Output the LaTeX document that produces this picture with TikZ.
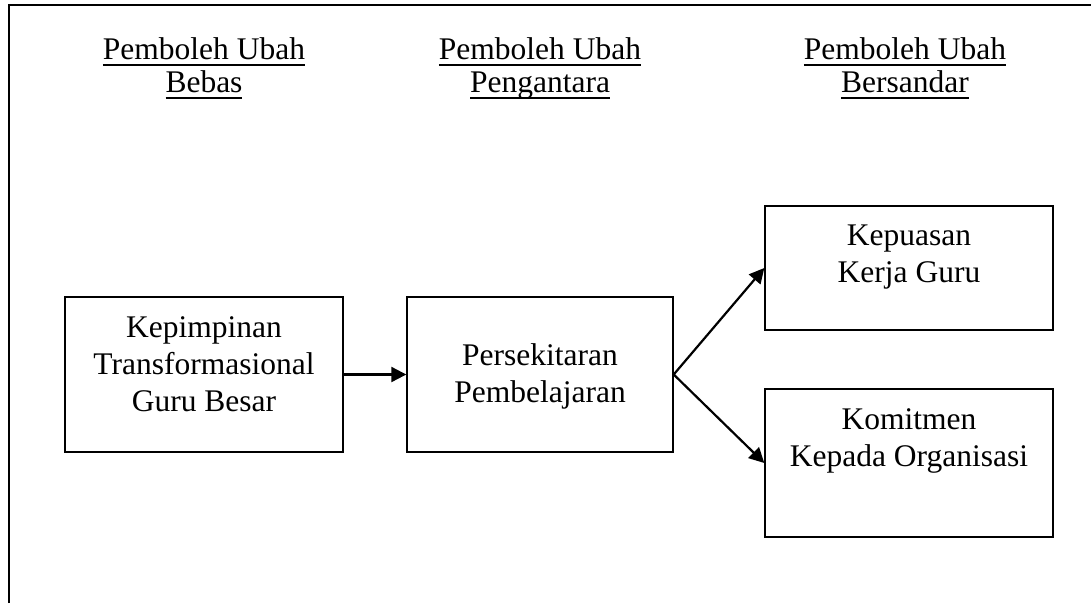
\documentclass[tikz,border=0pt]{standalone}
\usepackage{fontspec}
\setmainfont{Liberation Serif}
\newsavebox{\myulbox}
\newcommand{\myul}[1]{\sbox{\myulbox}{#1}\rlap{\vrule height -5pt depth 7pt width \wd\myulbox}\usebox{\myulbox}}
\usetikzlibrary{arrows.meta}
\begin{document}
\begin{tikzpicture}[x=1pt,y=-1pt,
  box/.style={draw=black, line width=1.4pt, rectangle, inner sep=0pt},
  lbl/.style={align=center, anchor=base, inner sep=0pt, font=\fontsize{31.5}{37}\selectfont},
  head/.style={align=center, anchor=base, inner sep=0pt, font=\fontsize{31.5}{33}\selectfont},
  arr/.style={line width=2.2pt, -{Triangle[length=15pt,width=15pt]}}]
\useasboundingbox (0,0) rectangle (1091,603);
\draw[line width=2.2pt] (9,603) -- (9,5) -- (1091,5);
% headers (anchor base = baseline of last line)
\node[head] (h1) at (204,92) {\myul{Pemboleh Ubah}\\\myul{Bebas}};
\node[head] (h2) at (540,92) {\myul{Pemboleh Ubah}\\\myul{Pengantara}};
\node[head] (h3) at (905,92) {\myul{Pemboleh Ubah}\\\myul{Bersandar}};
% boxes
\node[box, minimum width=278pt, minimum height=155pt] (b1) at (204,374.5) {};
\node[box, minimum width=266pt, minimum height=155pt] (b2) at (540,374.5) {};
\node[box, minimum width=288pt, minimum height=124pt] (b3) at (909,268) {};
\node[box, minimum width=288pt, minimum height=148pt] (b4) at (909,463) {};
% texts
\node[lbl] (t1) at (204,411) {Kepimpinan\\Transformasional\\Guru Besar};
\node[lbl] (t2) at (540,402) {Persekitaran\\Pembelajaran};
\node[lbl] (t3) at (909,282) {Kepuasan\\Kerja Guru};
\node[lbl] (t4) at (909,466) {Komitmen\\Kepada Organisasi};
% arrows
\draw[arr] (b1.east) -- (b2.west);
\draw[arr] (b2.east) -- (b3.west);
\draw[arr] (b2.east) -- (b4.west);
\end{tikzpicture}
\end{document}
